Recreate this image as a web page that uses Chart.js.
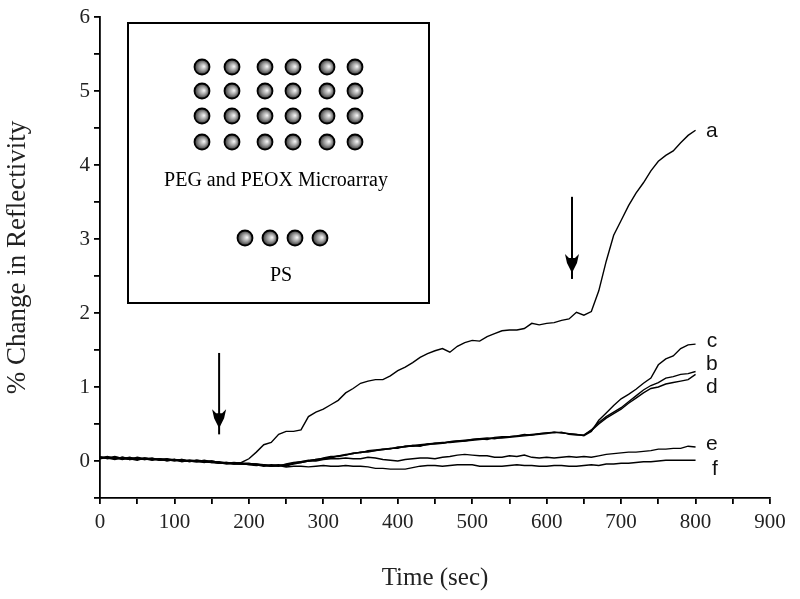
<!DOCTYPE html>
<html>
<head>
<meta charset="utf-8">
<script src="https://cdn.jsdelivr.net/npm/chart.js@4.4.0/dist/chart.umd.min.js"></script>
<style>
html,body{margin:0;padding:0;background:#fff;}
#wrap{width:800px;height:599px;}
</style>
</head>
<body>
<div id="wrap"><canvas id="c" width="800" height="599"></canvas></div>
<script>
const times = [0,10,20,30,40,50,60,70,80,90,100,110,120,130,140,150,160,170,180,190,
200,210,220,230,240,250,260,270,280,290,300,310,320,330,340,350,360,370,380,390,
400,410,420,430,440,450,460,470,480,490,500,510,520,530,540,550,560,570,580,590,
600,610,620,630,640,650,660,670,680,690,700,710,720,730,740,750,760,770,780,790,800];

const seriesA = [0.05,0.04,0.06,0.03,0.05,0.02,0.04,0.03,0.02,0.03,0.01,0.02,0.00,0.01,-0.01,0.00,-0.02,-0.02,-0.03,-0.02,
0.03,0.12,0.22,0.25,0.36,0.40,0.40,0.42,0.60,0.66,
0.70,0.76,0.82,0.92,0.98,1.05,1.08,1.10,1.10,1.15,
1.22,1.27,1.33,1.40,1.45,1.49,1.52,1.47,1.55,1.60,
1.63,1.62,1.68,1.72,1.76,1.77,1.77,1.79,1.86,1.84,
1.86,1.87,1.90,1.92,2.01,1.97,2.02,2.30,2.70,3.05,
3.25,3.45,3.62,3.76,3.92,4.05,4.13,4.19,4.30,4.40,
4.47];

const seriesB = [0.04,0.06,0.03,0.05,0.03,0.04,0.02,0.04,0.01,0.02,0.02,0.00,0.01,0.00,0.00,-0.01,-0.02,-0.03,-0.02,-0.03,
-0.05,-0.06,-0.05,-0.07,-0.06,-0.05,-0.03,-0.01,0.01,0.01,
0.04,0.06,0.06,0.08,0.11,0.11,0.14,0.15,0.16,0.16,
0.19,0.19,0.21,0.22,0.23,0.23,0.24,0.26,0.27,0.28,
0.29,0.30,0.29,0.32,0.33,0.33,0.34,0.35,0.36,0.37,
0.38,0.38,0.39,0.36,0.35,0.35,0.42,0.52,0.60,0.66,
0.72,0.80,0.88,0.96,1.02,1.06,1.12,1.14,1.17,1.18,
1.21];

const seriesC = [0.06,0.03,0.05,0.04,0.02,0.05,0.03,0.01,0.03,0.02,0.00,0.02,-0.01,0.01,0.00,-0.02,-0.01,-0.03,-0.03,-0.04,
-0.04,-0.05,-0.06,-0.06,-0.07,-0.04,-0.02,-0.01,0.00,0.02,
0.03,0.05,0.07,0.09,0.10,0.12,0.13,0.14,0.15,0.17,
0.18,0.20,0.20,0.21,0.22,0.24,0.25,0.25,0.26,0.27,
0.28,0.29,0.30,0.31,0.31,0.32,0.33,0.34,0.35,0.36,
0.37,0.39,0.38,0.37,0.36,0.34,0.40,0.55,0.65,0.75,
0.84,0.90,0.97,1.05,1.12,1.30,1.38,1.42,1.52,1.57,
1.58];

const seriesD = [0.03,0.05,0.04,0.02,0.04,0.03,0.03,0.02,0.02,0.01,0.02,0.01,0.00,-0.01,0.01,-0.01,-0.03,-0.02,-0.04,-0.03,
-0.03,-0.05,-0.07,-0.05,-0.06,-0.06,-0.04,-0.02,0.00,0.02,
0.03,0.04,0.07,0.08,0.10,0.12,0.12,0.14,0.16,0.17,
0.17,0.20,0.21,0.20,0.23,0.24,0.24,0.26,0.27,0.27,
0.29,0.30,0.31,0.30,0.32,0.33,0.34,0.36,0.35,0.37,
0.38,0.39,0.38,0.37,0.36,0.35,0.41,0.50,0.58,0.64,
0.70,0.78,0.85,0.92,0.98,1.00,1.04,1.06,1.08,1.10,
1.17];

const seriesE = [0.05,0.04,0.02,0.05,0.03,0.01,0.04,0.02,0.03,0.00,0.02,-0.01,0.01,0.00,-0.02,0.00,-0.02,-0.04,-0.03,-0.04,
-0.04,-0.04,-0.05,-0.06,-0.05,-0.07,-0.03,-0.02,0.00,0.00,
0.02,0.03,0.03,0.04,0.03,0.03,0.05,0.04,0.02,0.01,
0.00,0.02,0.03,0.04,0.04,0.03,0.05,0.06,0.08,0.09,
0.08,0.07,0.07,0.05,0.05,0.07,0.06,0.08,0.05,0.04,
0.05,0.04,0.05,0.06,0.05,0.06,0.05,0.07,0.09,0.10,
0.11,0.12,0.12,0.13,0.14,0.16,0.16,0.17,0.17,0.20,
0.19];

const seriesF = [0.04,0.05,0.03,0.04,0.02,0.03,0.02,0.03,0.01,0.02,0.01,0.00,0.00,-0.01,-0.01,-0.02,-0.03,-0.03,-0.04,-0.04,
-0.04,-0.04,-0.06,-0.07,-0.06,-0.08,-0.07,-0.07,-0.08,-0.07,
-0.06,-0.07,-0.07,-0.06,-0.07,-0.07,-0.08,-0.10,-0.10,-0.11,
-0.11,-0.11,-0.09,-0.07,-0.06,-0.06,-0.07,-0.06,-0.05,-0.05,
-0.05,-0.07,-0.07,-0.07,-0.07,-0.06,-0.05,-0.06,-0.06,-0.07,
-0.07,-0.06,-0.06,-0.07,-0.07,-0.06,-0.05,-0.06,-0.04,-0.04,
-0.03,-0.03,-0.02,-0.01,-0.01,0.00,0.01,0.01,0.01,0.01,
0.01];

const curveNames = ['a','b','c','d','e','f'];
const curveLabelX = [822,822,822,822,822,826];
const curveLabelY = [4.45,1.31,1.62,1.00,0.23,-0.11];

const arrowT = [160,634];
const arrowTop = [1.46,3.57];
const arrowTip = [0.36,2.46];

const xTickLabels = [0,100,200,300,400,500,600,700,800,900];
const yTickLabels = [0,1,2,3,4,5,6];

const allSeries = [seriesA,seriesB,seriesC,seriesD,seriesE,seriesF];

const datasets = allSeries.map((s,i)=>({
  label: curveNames[i],
  data: times.map((t,j)=>({x:t,y:s[j]})),
  showLine: true,
  borderColor: '#000',
  borderWidth: 1.4,
  pointRadius: 0,
  fill: false,
  tension: 0
}));

const whiteBg = {
  id:'whiteBg',
  beforeDraw(chart){
    const ctx = chart.ctx;
    ctx.save();
    ctx.fillStyle = '#fff';
    ctx.fillRect(0,0,chart.width,chart.height);
    ctx.restore();
  }
};

function ball(ctx,x,y,r){
  const g = ctx.createRadialGradient(x+2,y-0.5,0.5,x,y,r);
  g.addColorStop(0,'#eeeeee');
  g.addColorStop(0.5,'#9a9a9a');
  g.addColorStop(1,'#333');
  ctx.beginPath();
  ctx.arc(x,y,r,0,Math.PI*2);
  ctx.fillStyle = g;
  ctx.fill();
  ctx.lineWidth = 1.8;
  ctx.strokeStyle = '#000';
  ctx.stroke();
}

const decor = {
  id:'decor',
  afterDraw(chart){
    const ctx = chart.ctx;
    const xs = chart.scales.x, ys = chart.scales.y;
    ctx.save();
    // inset box
    ctx.strokeStyle = '#000';
    ctx.lineWidth = 2;
    ctx.strokeRect(128,23,301,280);
    const cols = [202,232,265,293,327,355];
    const rows = [67,91,116,142];
    rows.forEach(ry=>cols.forEach(cx=>ball(ctx,cx,ry,7.5)));
    [245,270,295,320].forEach(cx=>ball(ctx,cx,238,7.5));
    ctx.fillStyle = '#000';
    ctx.font = '20px "Liberation Serif", "Times New Roman", serif';
    ctx.textAlign = 'center';
    ctx.textBaseline = 'middle';
    ctx.fillText('PEG and PEOX Microarray',276,181);
    ctx.fillText('PS',281,276);
    // arrows
    arrowT.forEach((t,i)=>{
      const x = xs.getPixelForValue(t);
      const y0 = ys.getPixelForValue(arrowTop[i]);
      const y1 = ys.getPixelForValue(arrowTip[i]);
      ctx.beginPath();
      ctx.moveTo(x,y0); ctx.lineTo(x,y1);
      ctx.lineWidth = 2; ctx.strokeStyle='#000'; ctx.stroke();
      const hb = y1-6, ht = y1-25;
      ctx.beginPath();
      ctx.moveTo(x-7,ht);
      ctx.lineTo(x-3,ht+4);
      ctx.lineTo(x+3,ht+4);
      ctx.lineTo(x+7,ht);
      ctx.lineTo(x+5,ht+9);
      ctx.lineTo(x,hb);
      ctx.lineTo(x-5,ht+9);
      ctx.closePath();
      ctx.fillStyle='#000'; ctx.fill();
    });
    // curve labels
    ctx.font = '21px "Liberation Sans", Arial, sans-serif';
    ctx.fillStyle = '#111';
    curveNames.forEach((n,i)=>{
      ctx.fillText(n, xs.getPixelForValue(curveLabelX[i]), ys.getPixelForValue(curveLabelY[i]));
    });
    ctx.restore();
  }
};

const serif = '"Liberation Serif", "Times New Roman", serif';

new Chart(document.getElementById('c'),{
  type:'scatter',
  data:{datasets},
  plugins:[whiteBg,decor],
  options:{
    responsive:false,
    animation:false,
    layout:{padding:{top:17,right:30,bottom:0,left:0}},
    plugins:{legend:{display:false},tooltip:{enabled:false}},
    scales:{
      x:{
        type:'linear', min:0, max:900,
        afterFit(s){ s.height = 101; },
        border:{display:true,color:'#000',width:1.8},
        grid:{display:true,drawOnChartArea:false,drawTicks:true,tickLength:6,color:'#000',lineWidth:1.8},
        ticks:{
          stepSize:50, autoSkip:false, maxRotation:0, padding:6, color:'#222',
          font:{family:serif,size:21},
          callback:(v)=> xTickLabels.includes(v) ? String(v) : ''
        },
        title:{display:true,text:'Time (sec)',color:'#222',font:{family:serif,size:25},padding:{top:0,bottom:6}}
      },
      y:{
        type:'linear', min:-0.5, max:6,
        afterFit(s){ s.width = 100; },
        border:{display:true,color:'#000',width:1.8},
        grid:{display:true,drawOnChartArea:false,drawTicks:true,tickLength:6,color:'#000',lineWidth:1.8},
        ticks:{
          stepSize:0.5, autoSkip:false, padding:4, color:'#222',
          font:{family:serif,size:21},
          callback:(v)=> yTickLabels.includes(v) ? String(v) : ''
        },
        title:{display:true,text:'% Change in Reflectivity',color:'#222',font:{family:serif,size:27},padding:{top:2,bottom:0}}
      }
    }
  }
});
</script>
</body>
</html>
